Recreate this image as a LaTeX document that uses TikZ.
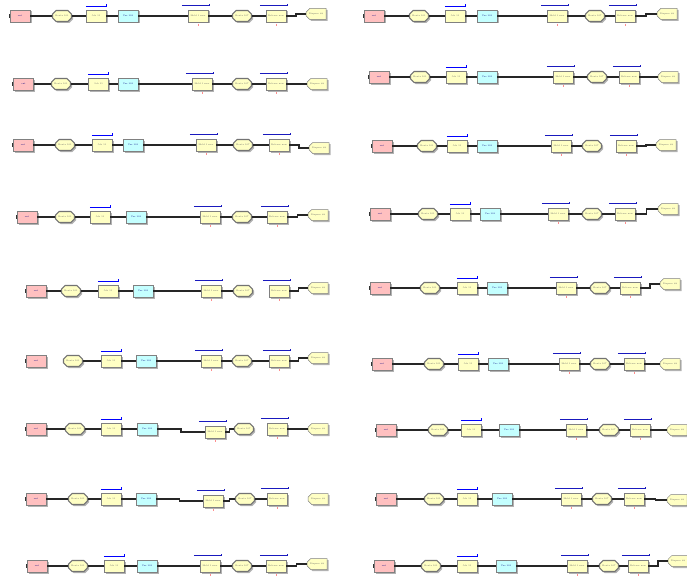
\documentclass[tikz,border=0pt]{standalone}
\usepackage{tikz}
\usetikzlibrary{calc}
\usetikzlibrary{shapes.misc}
\usetikzlibrary{shadows}

\definecolor{arrivefill}{RGB}{255,192,192}
\definecolor{blockfill}{RGB}{255,255,196}
\definecolor{delayfill}{RGB}{196,255,255}
\definecolor{holdblue}{RGB}{25,25,190}

\tikzset{
  blk/.style={draw=black!50, line width=.5, minimum width=20, minimum height=12,
    inner sep=0, font=\fontsize{2.2}{2.4}\selectfont, text=black!60,
    drop shadow={shadow xshift=1.5pt, shadow yshift=-1.5pt, fill=black!30, opacity=1}},
  arrive/.style={blk, fill=arrivefill, text=blue!50!black,
    label={[inner sep=0, minimum width=1, minimum height=4, fill=black!80]west:{}}},
  route/.style={blk, chamfered rectangle, chamfered rectangle xsep=1.6pt,
    draw=black!55, line width=1.1, minimum width=19, minimum height=11, fill=blockfill},
  seize/.style={blk, fill=blockfill},
  hold/.style={blk, fill=blockfill},
  delay/.style={blk, fill=delayfill, text=blue!50!black},
  depart/.style={blk, chamfered rectangle, chamfered rectangle corners={north west,south west},
    chamfered rectangle xsep=2pt, minimum width=20, minimum height=11, fill=blockfill},
  seizebar/.style={draw=blue, line width=1.1},
  holdbar/.style={draw=holdblue, line width=1.1},
  flow/.style={draw=black!85, line width=1.1,
    to path={let \p1=(\tikztostart), \p2=(\tikztotarget) in
      -- (\x1/2+\x2/2,\y1) -- (\x1/2+\x2/2,\y2) -- (\p2)}}
}

\begin{document}
\begin{tikzpicture}[x=1pt,y=-1pt]
\useasboundingbox (0,0) rectangle (687,578);

% row/y/ x of the eight blocks / shift of hold and dispose / missing link
\foreach \r/\y/\xa/\xb/\xc/\xd/\xe/\xf/\xg/\xh/\dh/\de/\gap in {
  L1/16/20/62/96/128/198/242/276/316/0/-2/0,
  L2/84/23.5/61/98.5/128/202/242/276/317/0/0/0,
  L3/145/23/65/102/133/206/243/279/319/0/3/0,
  L4/217/27/65/100/136/210/242/277/318/0/-2/0,
  L5/291/36/71/108/143/211/243/279/318/0/-3/6,
  L6/361/36/73/111/146/211/242/279/318/0/-3/1,
  L7/429/36/75/111/147/215/244/277/318/3/0/6,
  L8/499/36/78/111/146/213/245/277/318/2/0/7,
  L9/566/37/78/114/147/210/242/276/317/0/-2/0,
  R1/16/374/419/455/487/557/595/625/667/0/-2/0,
  R2/77/379/420/456/487/563/597/629/668/0/0/0,
  R3/146/382/427/457/487/561/592/626/666/0/-1/6,
  R4/214/380/428/460/490/558/592/625/668/0/-5/0,
  R5/288/380/430/467/497/566/600/630/670/0/-4/0,
  R6/364/382/434/468/498/569/600/634/670/0/0/0,
  R7/430/386/438/471/509/576/609/640/677/0/0/0,
  R8/499/386/434/467/502/571/602/634/677/0/1/0,
  R9/566/384/431/467/506/577/609/638/678/0/-5/0}{
  \node[arrive] (\r-a) at (\xa,\y) {ent};
  \node[route]  (\r-b) at (\xb,\y) {Route 101};
  \node[seize]  (\r-c) at (\xc,\y) {Job 11};
  \node[delay]  (\r-d) at (\xd,\y) {Use 101};
  \node[hold]   (\r-e) at (\xe,\y+\dh) {Hold 1 new};
  \node[route]  (\r-f) at (\xf,\y) {Route 107};
  \node[hold]   (\r-g) at (\xg,\y) {Release new};
  \node[depart] (\r-h) at (\xh,\y+\de) {Dispose 88};
  % links between blocks
  \foreach \p/\q [count=\k] in {a/b,b/c,c/d,d/e,e/f,f/g,g/h}{
    \ifnum\k=\gap\else\draw[flow] (\r-\p.east) to (\r-\q.west);\fi
  }
  % resource bars
  \draw[seizebar] ([yshift=3pt]\r-c.north west) -- ([yshift=3pt]\r-c.north east) -- ++(0,-3);
  \foreach \n in {e,g}{
    \draw[holdbar] ([xshift=-6pt,yshift=4pt]\r-\n.north west)
      -- ([xshift=1pt,yshift=4pt]\r-\n.north east) -- ++(0,-2);
    \draw[red!45, line width=.4] ([yshift=-1.5pt]\r-\n.south) -- ++(0,2);
  }
}
\end{tikzpicture}
\end{document}
